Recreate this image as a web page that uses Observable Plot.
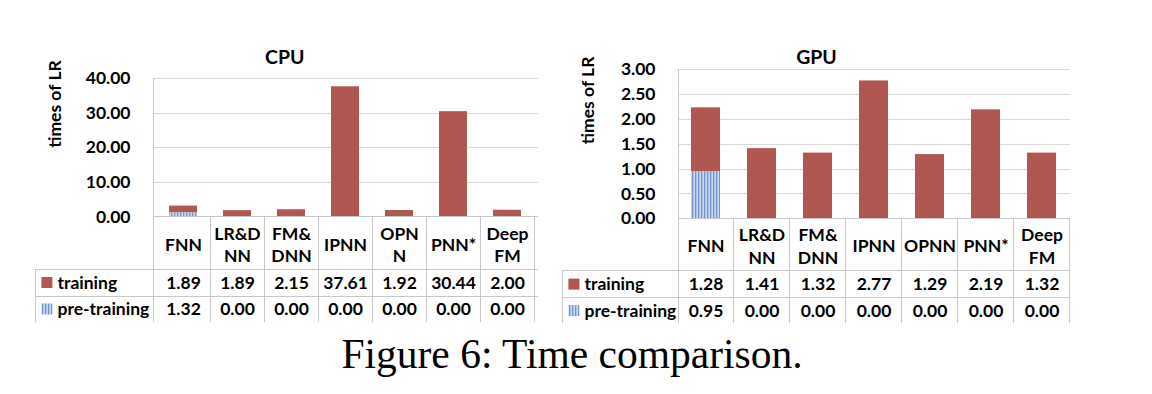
<!DOCTYPE html>
<html>
<head>
<meta charset="utf-8">
<script src="https://cdn.jsdelivr.net/npm/d3@7"></script>
<script src="https://cdn.jsdelivr.net/npm/@observablehq/plot@0.6"></script>
<style>
  html, body { margin: 0; padding: 0; background: #fff; }
  #wrap { position: relative; width: 1152px; height: 394px; overflow: hidden; background: #fff; }
  .chart { position: absolute; top: 0; }
  #caption { position: absolute; left: -4px; width: 1152px; top: 334px; text-align: center;
             font-family: "Liberation Serif", "Times New Roman", serif; font-size: 41.5px; line-height: 41.5px; color: #000; }
</style>
</head>
<body>
<div id="wrap">
  <div id="cpu" class="chart" style="left:0px"></div>
  <div id="gpu" class="chart" style="left:560px"></div>
  <div id="caption">Figure 6: Time comparison.</div>
</div>
<script>
// ---- data ----
const categories = ["FNN", "LR&DNN", "FM&DNN", "IPNN", "OPNN", "PNN*", "DeepFM"];
const headerLabelsCPU = ["FNN", "LR&D\nNN", "FM&\nDNN", "IPNN", "OPN\nN", "PNN*", "Deep\nFM"];
const headerLabelsGPU = ["FNN", "LR&D\nNN", "FM&\nDNN", "IPNN", "OPNN", "PNN*", "Deep\nFM"];
const seriesNames = ["training", "pre-training"];
const trainingCPU = [1.89, 1.89, 2.15, 37.61, 1.92, 30.44, 2.00];
const pretrainingCPU = [1.32, 0.00, 0.00, 0.00, 0.00, 0.00, 0.00];
const trainingGPU = [1.28, 1.41, 1.32, 2.77, 1.29, 2.19, 1.32];
const pretrainingGPU = [0.95, 0.00, 0.00, 0.00, 0.00, 0.00, 0.00];
const ticksCPU = [0, 10, 20, 30, 40];
const ticksGPU = [0, 0.5, 1.0, 1.5, 2.0, 2.5, 3.0];
const chartTitles = ["CPU", "GPU"];
const yLabel = "times of LR";

// ---- styling ----
const RED = "#b05752";
const FONT = "Lato, 'Open Sans', sans-serif";
const LINE = "#c8c8c8";
const fmt = d3.format(".2f");

function makeChart(cfg) {
  const rows = categories.map((c, i) => ({
    cat: c, header: cfg.headers[i], train: cfg.training[i], pre: cfg.pretraining[i]
  }));
  const patId = cfg.patternId;

  function tableMark(index, scales, values, dims) {
    const x = scales.x, y = scales.y;
    const left = dims.marginLeft, right = dims.width - dims.marginRight;
    const n = categories.length;
    const step = typeof x.step === "function" ? x.step() : (right - left) / n;
    const bw = typeof x.bandwidth === "function" ? x.bandwidth() : 0;
    const y0 = y(0);
    const yTop = y(cfg.ticks[cfg.ticks.length - 1]);
    const hdr = y0 + cfg.rowHeader, sep = y0 + cfg.rowSep, bot = y0 + cfg.rowBottom;
    const tLeft = left + cfg.tableLeft;
    const g = d3.create("svg:g");
    const defs = g.append("defs");
    const pat = defs.append("pattern").attr("id", patId)
      .attr("patternUnits", "userSpaceOnUse").attr("width", 3).attr("height", 4);
    pat.append("rect").attr("width", 3).attr("height", 4).attr("fill", "#c8d7ee");
    pat.append("rect").attr("width", 1.3).attr("height", 4).attr("fill", "#7393cb");
    const lines = g.append("g").attr("stroke", LINE).attr("stroke-width", 1)
      .attr("shape-rendering", "crispEdges").attr("fill", "none");
    const seg = (x1, y1, x2, y2) => lines.append("line")
      .attr("x1", x1).attr("y1", y1).attr("x2", x2).attr("y2", y2);
    seg(left, y0, right, y0);
    seg(tLeft, hdr, right, hdr);
    seg(tLeft, sep, right, sep);
    seg(left, yTop, left, bot);
    seg(tLeft, hdr, tLeft, bot);
    categories.forEach(c => {
      const cx = x(c) + bw / 2;
      seg(cx + step / 2, y0, cx + step / 2, bot);
    });
    const sx = tLeft + 6;
    g.append("rect").attr("x", sx).attr("y", y0 + cfg.rowTrain - 5.5).attr("width", 11).attr("height", 11).attr("fill", RED);
    g.append("rect").attr("x", sx).attr("y", y0 + cfg.rowPre - 5.5).attr("width", 11).attr("height", 11).attr("fill", `url(#${patId})`);
    return g.node();
  }

  const gridTicks = cfg.ticks.filter(t => t > 0);
  const TS = 17.5;
  const plot = Plot.plot({
    width: cfg.width,
    height: cfg.height,
    marginLeft: cfg.marginLeft,
    marginRight: cfg.marginRight,
    marginTop: cfg.marginTop,
    marginBottom: cfg.marginBottom,
    style: { fontFamily: FONT, fontSize: TS + "px", fontWeight: "bold", color: "#000", background: "#fff", overflow: "visible" },
    x: { type: "band", domain: categories, paddingInner: cfg.padInner, paddingOuter: cfg.padInner / 2, axis: null },
    y: { domain: [0, cfg.ticks[cfg.ticks.length - 1]] },
    marks: [
      Plot.ruleY(gridTicks, { stroke: "#d9d9d9", strokeWidth: 1, shapeRendering: "crispEdges" }),
      Plot.axisY(cfg.ticks, { tickSize: 0, tickPadding: 23, tickFormat: fmt, fontSize: TS, fontWeight: "bold", label: null, fill: "#000" }),
      Plot.barY(rows.filter(d => d.pre > 0), { x: "cat", y1: 0, y2: "pre", fill: `url(#${patId})` }),
      Plot.barY(rows, { x: "cat", y1: "pre", y2: d => d.pre + d.train, fill: RED }),
      tableMark,
      Plot.text([cfg.title], { frameAnchor: "top", dx: cfg.titleDx, dy: cfg.titleDy, lineAnchor: "middle", fontSize: 19.5, fontWeight: "bold", fill: "#000" }),
      Plot.text([yLabel], { frameAnchor: "left", rotate: -90, dx: cfg.yLabelDx, fontSize: TS, fontWeight: "bold", fill: "#000" }),
      Plot.text(rows, { x: "cat", y: 0, text: "header", dy: cfg.rowHeaderMid, lineAnchor: "middle", lineHeight: 1.27, fontSize: TS, fontWeight: "bold", fill: "#000" }),
      Plot.text(rows, { x: "cat", y: 0, text: d => fmt(d.train), dy: cfg.rowTrain, lineAnchor: "middle", fontSize: TS, fontWeight: "bold", fill: "#000" }),
      Plot.text(rows, { x: "cat", y: 0, text: d => fmt(d.pre), dy: cfg.rowPre, lineAnchor: "middle", fontSize: TS, fontWeight: "bold", fill: "#000" }),
      Plot.text([seriesNames[0]], { frameAnchor: "left", y: 0, dx: cfg.rowLabelDx, dy: cfg.rowTrain, textAnchor: "start", lineAnchor: "middle", fontSize: TS, fontWeight: "bold", fill: "#000" }),
      Plot.text([seriesNames[1]], { frameAnchor: "left", y: 0, dx: cfg.rowLabelDx, dy: cfg.rowPre, textAnchor: "start", lineAnchor: "middle", fontSize: TS, fontWeight: "bold", fill: "#000" })
    ]
  });
  return plot;
}

const common = { height: 330, rowHeader: 52.6, rowSep: 79.3, rowBottom: 105, rowHeaderMid: 26.5, rowTrain: 65.8, rowPre: 92.3 };

document.getElementById("cpu").appendChild(makeChart({
  ...common,
  headers: headerLabelsCPU, training: trainingCPU, pretraining: pretrainingCPU, ticks: ticksCPU,
  width: 560, marginLeft: 153, marginRight: 22.5, marginTop: 78, marginBottom: 113.3,
  padInner: 0.49, title: chartTitles[0], titleDx: -61, titleDy: -21, yLabelDx: -98,
  rowLabelDx: -96, tableLeft: -117.6, patternId: "stripes-cpu"
}));

document.getElementById("gpu").appendChild(makeChart({
  ...common,
  headers: headerLabelsGPU, training: trainingGPU, pretraining: pretrainingGPU, ticks: ticksGPU,
  width: 592, marginLeft: 118, marginRight: 82, marginTop: 69, marginBottom: 111.7,
  padInner: 0.48, title: chartTitles[1], titleDx: -58, titleDy: -12, yLabelDx: -90,
  rowLabelDx: -94, tableLeft: -115.6, patternId: "stripes-gpu"
}));
</script>
</body>
</html>
